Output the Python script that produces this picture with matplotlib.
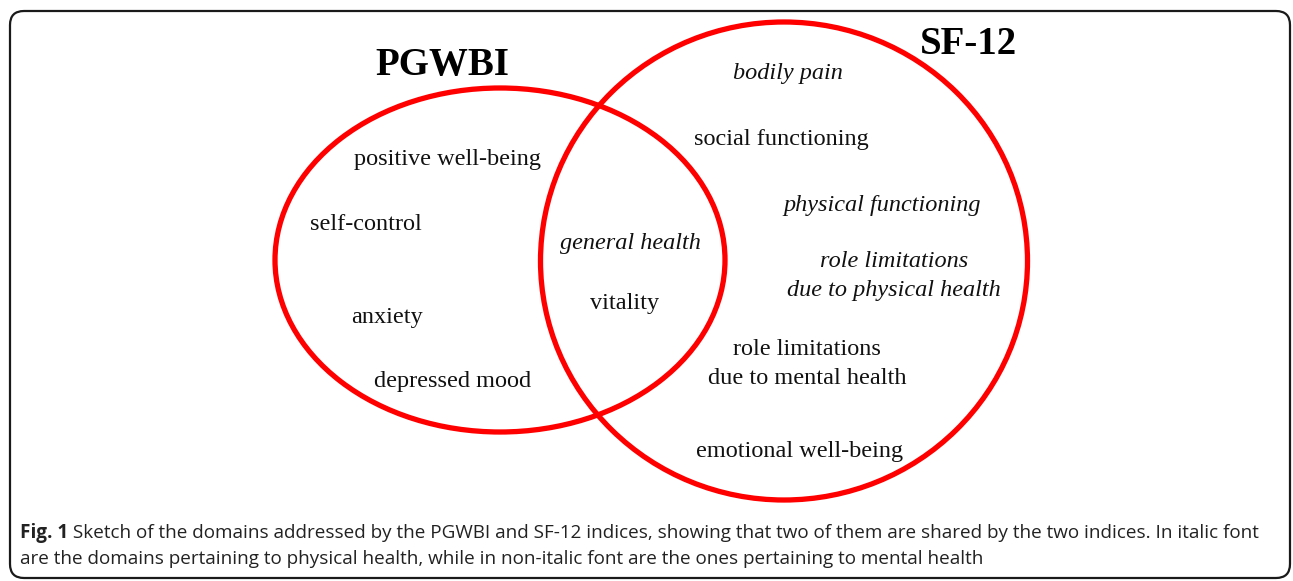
import matplotlib.pyplot as plt
from matplotlib.patches import Ellipse, FancyBboxPatch

"""
        Data
"""
set_names = ["PGWBI", "SF-12"]

pgwbi_only = ["positive well-being", "self-control", "anxiety", "depressed mood"]
shared = ["general health", "vitality"]
sf12_only = ["bodily pain", "social functioning", "physical functioning",
             "role limitations\ndue to physical health",
             "role limitations\ndue to mental health", "emotional well-being"]

# physical health domains are drawn in italic
physical = ["general health", "bodily pain", "physical functioning",
            "role limitations\ndue to physical health"]

caption_bold = "Fig. 1"
caption_text = (" Sketch of the domains addressed by the PGWBI and SF-12 indices, "
                "showing that two of them are shared by the two indices. In italic font\n"
                "are the domains pertaining to physical health, while in non-italic font "
                "are the ones pertaining to mental health")

"""
        Layout (pixel coordinates)
"""
W, H = 1293, 581
ellipses = {"PGWBI": (500, 260, 450, 344), "SF-12": (784, 261, 487, 478)}
title_pos = {"PGWBI": (442, 65), "SF-12": (968, 45)}
label_pos = {
    "positive well-being": (448, 159),
    "self-control": (366, 225),
    "anxiety": (387, 318),
    "depressed mood": (453, 381),
    "general health": (630, 244),
    "vitality": (625, 303),
    "bodily pain": (788, 73),
    "social functioning": (781, 139),
    "physical functioning": (882, 206),
    "role limitations\ndue to physical health": (894, 276),
    "role limitations\ndue to mental health": (807, 364),
    "emotional well-being": (800, 452),
}

fig = plt.figure(figsize=(W / 100, H / 100), dpi=100)
ax = fig.add_axes([0, 0, 1, 1])
ax.set_xlim(0, W)
ax.set_ylim(H, 0)
ax.axis("off")

# rounded frame
frame = FancyBboxPatch((10, 11), 1280, 567, boxstyle="round,pad=0,rounding_size=14",
                       fill=False, edgecolor="#1a1a1a", linewidth=1.6)
ax.add_patch(frame)

for name in set_names:
    cx, cy, w, h = ellipses[name]
    ax.add_patch(Ellipse((cx, cy), w, h, fill=False, edgecolor="#ff0000", linewidth=3.8))
    tx, ty = title_pos[name]
    ax.text(tx, ty, name, fontsize=28, fontweight="bold", family="Liberation Serif",
            ha="center", va="center", color="black")

for lab in pgwbi_only + shared + sf12_only:
    x, y = label_pos[lab]
    ax.text(x, y, lab, fontsize=17.5, family="Liberation Serif",
            style="italic" if lab in physical else "normal",
            ha="center", va="center", color="#111111", linespacing=1.45)

# caption
cap_fs = 13.6
cap_y = [533, 559]
cap = ax.text(20, cap_y[0], caption_bold, fontsize=cap_fs, fontweight="bold", family="Open Sans",
              ha="left", va="center", color="#222222")
fig.canvas.draw()
bb = cap.get_window_extent()
x_end = ax.transData.inverted().transform((bb.x1, bb.y0))[0]
lines = caption_text.split("\n")
ax.text(x_end, cap_y[0], lines[0], fontsize=cap_fs, family="Open Sans",
        ha="left", va="center", color="#222222")
ax.text(20, cap_y[1], lines[1], fontsize=cap_fs, family="Open Sans",
        ha="left", va="center", color="#222222")

fig.savefig("out.png", dpi=100)
